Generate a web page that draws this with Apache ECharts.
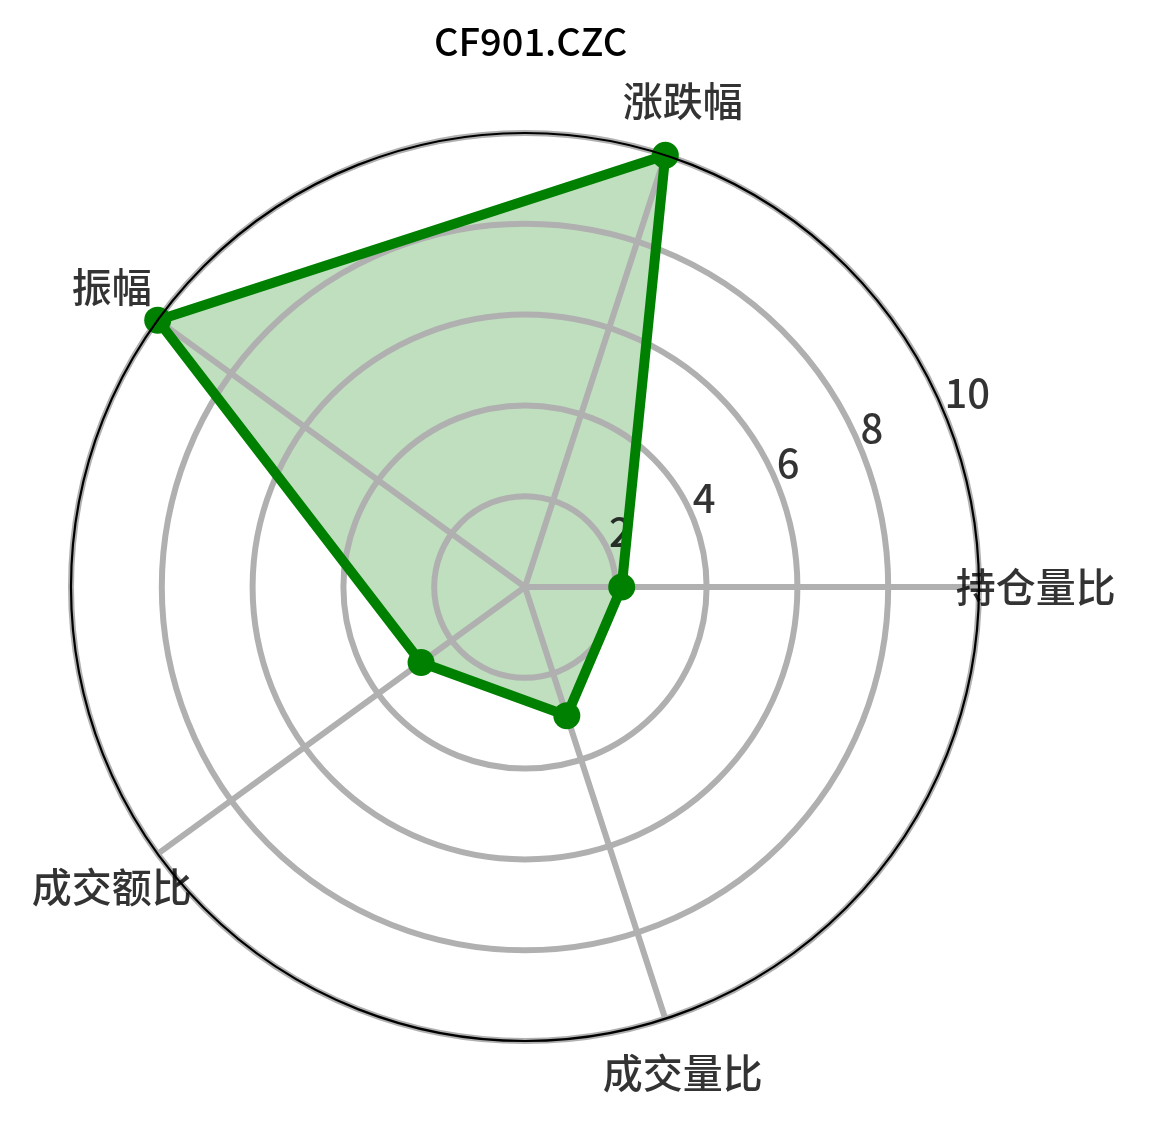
<!DOCTYPE html>
<html>
<head>
<meta charset="utf-8">
<script src="https://cdn.jsdelivr.net/npm/echarts@6/dist/echarts.min.js"></script>
<style>
html,body{margin:0;padding:0;background:#fff;}
#chart{width:1151px;height:1123px;}
</style>
</head>
<body>
<div id="chart"></div>
<script>
// ---- data ----
var chartTitle = 'CF901.CZC';
var categories = ['持仓量比', '涨跌幅', '振幅', '成交额比', '成交量比'];
var values = [2.13, 10, 10, 2.83, 2.98];
var radialTicks = [2, 4, 6, 8, 10];
var axisMax = 10;

// ---- layout / style ----
var FONT = '"Noto Sans CJK SC", "Noto Sans", sans-serif';
var CENTER = [525, 587];
var RADIUS = 454;
var NAME_R = 11.25;      // label radius in axis units
var GRID = '#b0b0b0';
var GREEN = '#008000';

var chart = echarts.init(document.getElementById('chart'), null, {renderer: 'canvas'});

var hiddenAxis = {
  axisLine: {show: false}, axisTick: {show: false},
  axisLabel: {show: false}, splitLine: {show: false}, splitArea: {show: false}
};

var option = {
  backgroundColor: '#ffffff',
  animation: false,
  title: {
    text: chartTitle,
    left: 434, top: 23, padding: 0,
    textStyle: {fontFamily: FONT, fontSize: 38, fontWeight: 500, color: '#000'}
  },
  radar: {
    center: CENTER, radius: RADIUS, startAngle: 0, shape: 'circle',
    indicator: categories.map(function (c) { return {name: c, min: 0, max: axisMax}; }),
    axisName: {show: false},
    axisLine: {show: false}, splitLine: {show: false}, splitArea: {show: false}, axisTick: {show: false}, axisLabel: {show: false}
  },
  polar: [
    {center: CENTER, radius: RADIUS},   // grid
    {center: CENTER, radius: RADIUS},   // radial tick labels
    {center: CENTER, radius: RADIUS},   // outer spine
    {center: CENTER, radius: RADIUS}    // category names
  ],
  angleAxis: [
    Object.assign({}, hiddenAxis, {
      polarIndex: 0, type: 'value', min: 0, max: 360, interval: 360 / categories.length,
      startAngle: 0, clockwise: false, z: 2,
      splitLine: {show: true, lineStyle: {color: GRID, width: 6}}
    }),
    Object.assign({}, hiddenAxis, {
      polarIndex: 1, type: 'value', min: 0, max: 360, startAngle: 22.5, clockwise: false
    }),
    Object.assign({}, hiddenAxis, {
      polarIndex: 2, type: 'value', min: 0, max: 360, startAngle: 0, clockwise: false, z: 4,
      axisLine: {show: true, lineStyle: {color: '#000', width: 2.2}}
    }),
    Object.assign({}, hiddenAxis, {
      polarIndex: 3, type: 'category', data: categories, boundaryGap: false,
      startAngle: 0, clockwise: false
    })
  ],
  radiusAxis: [
    Object.assign({}, hiddenAxis, {
      polarIndex: 0, type: 'value', min: 0, max: axisMax, interval: 2, z: 2,
      splitLine: {show: true, lineStyle: {color: GRID, width: 6}}
    }),
    Object.assign({}, hiddenAxis, {polarIndex: 1, type: 'value', min: 0, max: axisMax, interval: 2}),
    Object.assign({}, hiddenAxis, {polarIndex: 2, type: 'value', min: 0, max: axisMax, interval: 2}),
    Object.assign({}, hiddenAxis, {polarIndex: 3, type: 'value', min: 0, max: axisMax, interval: 2})
  ],
  series: [
    {
      type: 'radar', z: 1, symbol: 'none',
      lineStyle: {width: 0, opacity: 0},
      areaStyle: {color: 'rgba(0,128,0,0.25)', opacity: 1},
      data: [{value: values, name: chartTitle}]
    },
    {
      type: 'scatter', coordinateSystem: 'polar', polarIndex: 1, z: 2, clip: false,
      symbolSize: 0, silent: true,
      data: radialTicks.map(function (t) { return {name: String(t), value: [t, 0]}; }),
      label: {show: true, position: 'inside', align: 'left', verticalAlign: 'bottom', formatter: '{b}',
        fontFamily: FONT, fontSize: 40, fontWeight: 500, color: '#000'}
    },
    {
      type: 'radar', z: 3, symbol: 'circle', symbolSize: 27,
      itemStyle: {color: GREEN},
      lineStyle: {color: GREEN, width: 10},
      data: [{value: values, name: chartTitle}]
    },
    {
      type: 'scatter', coordinateSystem: 'polar', polarIndex: 3, z: 3, clip: false,
      symbolSize: 0, silent: true,
      data: categories.map(function (c) { return {name: c, value: [NAME_R, c]}; }),
      label: {show: true, position: 'inside', formatter: '{b}',
        fontFamily: FONT, fontSize: 40, fontWeight: 500, color: '#000'}
    }
  ]
};
chart.setOption(option);
</script>
</body>
</html>
